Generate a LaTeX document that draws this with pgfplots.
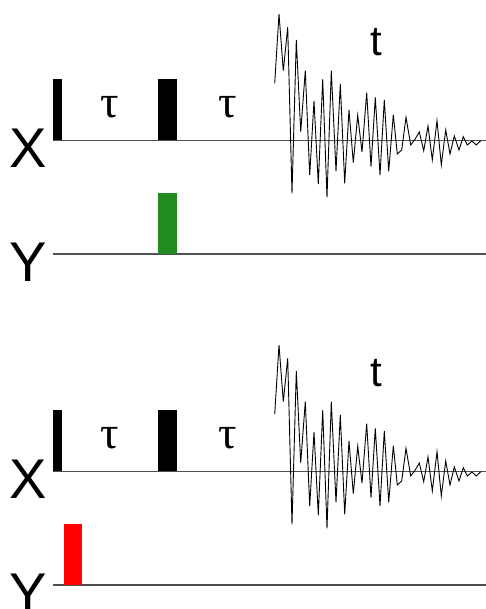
\documentclass[border=0pt]{standalone}
\usepackage{pgfplots}
\pgfplotsset{compat=1.18}
\usepackage{pgfplotstable}
\usepackage{fontspec}
\setmainfont{Liberation Sans}
\newfontfamily\serif{Liberation Serif}
\definecolor{pgreen}{RGB}{34,139,34}
\definecolor{pline}{RGB}{80,80,80}

\pgfplotstableread{
x v
274.7 57.4
279.0 126.7
283.3 70.0
287.7 113.4
292.0 -52.6
296.3 100.7
300.7 9.0
305.3 70.0
309.7 -34.3
314.0 39.7
318.3 -43.3
322.7 61.4
327.0 -56.6
331.3 70.0
336.0 -30.6
340.3 56.7
344.7 -42.6
349.0 30.7
353.3 -22.0
357.7 25.4
362.0 -11.3
366.7 48.0
371.0 -26.0
375.3 43.4
380.0 -34.3
384.3 40.7
388.7 -30.6
393.3 26.0
397.3 -13.3
401.7 -9.3
406.0 23.4
410.7 -4.3
415.0 1.4
419.3 8.7
423.7 -10.0
428.0 14.7
432.3 -19.3
437.0 20.0
441.3 -24.3
445.7 10.7
450.0 -13.3
454.3 4.7
459.0 -9.3
463.3 4.0
467.3 -4.3
472.0 -0.3
476.3 -4.3
480.7 0.0
}\fid

\begin{document}
\begin{tikzpicture}
\useasboundingbox (0,0) rectangle (486pt,609pt);
\clip (0,0) rectangle (486pt,609pt);
\begin{axis}[
  at={(0,0)}, anchor=south west,
  scale only axis, width=486pt, height=609pt,
  xmin=0, xmax=486, ymin=0, ymax=609,
  hide axis, clip=false,
]
% baselines
\addplot[pline, line width=1.1pt] coordinates {(53,468.5) (486,468.5)};
\addplot[pline, line width=1.1pt] coordinates {(53,355) (486,355)};
\addplot[pline, line width=1.1pt] coordinates {(53,137.5) (486,137.5)};
\addplot[pline, line width=1.1pt] coordinates {(53,24) (486,24)};
% top panel pulses
\addplot[fill=black, draw=none] coordinates {(53,468.5) (62,468.5) (62,530) (53,530)} -- cycle;
\addplot[fill=black, draw=none] coordinates {(158,468.5) (177,468.5) (177,530) (158,530)} -- cycle;
\addplot[fill=pgreen, draw=none] coordinates {(158,355) (177,355) (177,416) (158,416)} -- cycle;
% bottom panel pulses
\addplot[fill=black, draw=none] coordinates {(53,137.5) (62,137.5) (62,199) (53,199)} -- cycle;
\addplot[fill=black, draw=none] coordinates {(158,137.5) (177,137.5) (177,199) (158,199)} -- cycle;
\addplot[fill=red, draw=none] coordinates {(63.7,24) (82.3,24) (82.3,85) (63.7,85)} -- cycle;
% FIDs
\addplot[black, line width=0.9pt, line join=miter] table[x=x, y expr=\thisrow{v}+468.3] {\fid};
\addplot[black, line width=0.9pt, line join=miter] table[x=x, y expr=\thisrow{v}+137.3] {\fid};
% labels
\node[font=\fontsize{56}{60}\selectfont] at (axis cs:28,461) {X};
\node[font=\fontsize{56}{60}\selectfont] at (axis cs:28,347) {Y};
\node[font=\fontsize{56}{60}\selectfont] at (axis cs:28,130) {X};
\node[font=\fontsize{56}{60}\selectfont] at (axis cs:28,16) {Y};
\node[font=\fontsize{42}{46}\selectfont] at (axis cs:376.7,567) {t};
\node[font=\fontsize{42}{46}\selectfont] at (axis cs:376.7,236) {t};
\node[font=\serif\fontsize{46}{50}\selectfont] at (axis cs:110,502) {τ};
\node[font=\serif\fontsize{46}{50}\selectfont] at (axis cs:228,502) {τ};
\node[font=\serif\fontsize{46}{50}\selectfont] at (axis cs:110,171) {τ};
\node[font=\serif\fontsize{46}{50}\selectfont] at (axis cs:228,171) {τ};
\end{axis}
\end{tikzpicture}
\end{document}
